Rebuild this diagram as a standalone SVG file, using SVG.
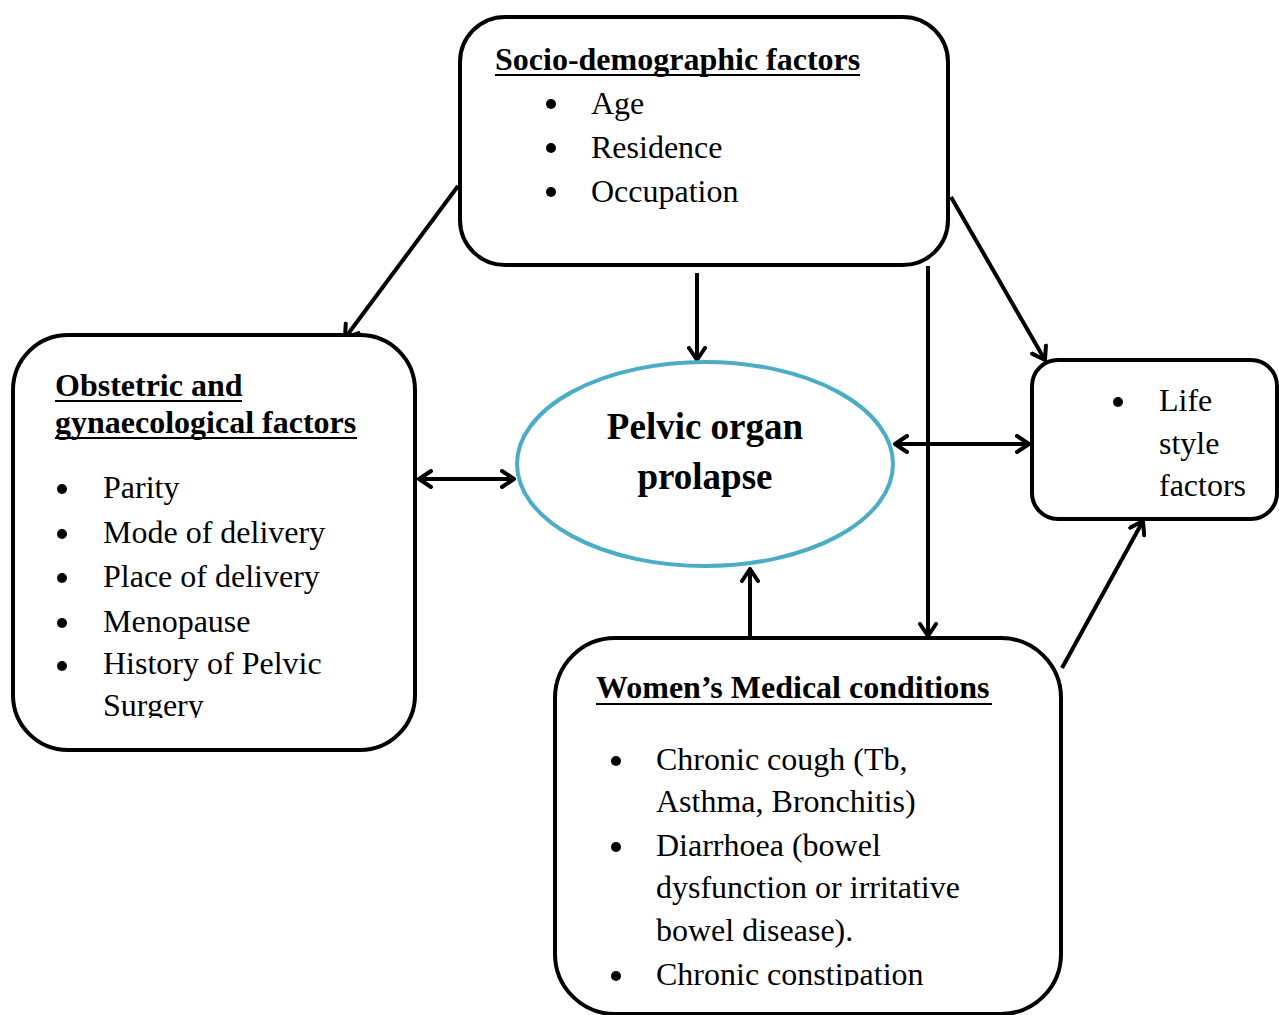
<svg xmlns="http://www.w3.org/2000/svg" width="1279" height="1015" viewBox="0 0 1279 1015">
<style>
.box{fill:#fff;stroke:#000;stroke-width:4}
.t{font-family:"Liberation Serif","Times New Roman",serif;font-size:32px;fill:#000}
.h{font-family:"Liberation Serif","Times New Roman",serif;font-size:32px;font-weight:bold;fill:#000}
.ul{stroke:#000;stroke-width:2}
.c{stroke:#000;stroke-width:4;fill:none;marker-end:url(#ah)}
.d{stroke:#000;stroke-width:4;fill:none;marker-end:url(#ah);marker-start:url(#ahs)}
</style>
<defs>
<marker id="ah" viewBox="0 0 16 20" refX="14" refY="10" markerWidth="16" markerHeight="20" markerUnits="userSpaceOnUse" orient="auto">
<path d="M2,2 L14,10 L2,18" fill="none" stroke="#000" stroke-width="4" stroke-linecap="round" stroke-linejoin="round"/>
</marker>
<marker id="ahs" viewBox="0 0 16 20" refX="2" refY="10" markerWidth="16" markerHeight="20" markerUnits="userSpaceOnUse" orient="auto">
<path d="M14,2 L2,10 L14,18" fill="none" stroke="#000" stroke-width="4" stroke-linecap="round" stroke-linejoin="round"/>
</marker>
<clipPath id="clipL"><rect x="0" y="330" width="420" height="388"/></clipPath>
<clipPath id="clipB"><rect x="550" y="630" width="520" height="356"/></clipPath>
</defs>
<rect width="1279" height="1015" fill="#fff"/>

<g id="connectors">
<line class="c" x1="458" y1="186" x2="345" y2="338"/>
<line class="c" x1="697" y1="273" x2="697" y2="360"/>
<line class="c" x1="928" y1="266" x2="928" y2="636"/>
<line class="c" x1="951" y1="197" x2="1045" y2="360"/>
<line class="d" x1="419" y1="479" x2="514" y2="479"/>
<line class="d" x1="895" y1="444" x2="1029" y2="444"/>
<line class="c" x1="750" y1="638" x2="750" y2="569"/>
<line class="c" x1="1062" y1="668" x2="1143" y2="521"/>
</g>

<g id="socio">
<rect class="box" x="460" y="17" width="488" height="248" rx="45"/>
<text class="h" x="495" y="70">Socio-demographic factors</text>
<line class="ul" x1="495" y1="75" x2="860" y2="75"/>
<circle cx="551" cy="104" r="5"/><text class="t" x="591" y="114">Age</text>
<circle cx="551" cy="148" r="5"/><text class="t" x="591" y="158">Residence</text>
<circle cx="551" cy="192" r="5"/><text class="t" x="591" y="202">Occupation</text>
</g>

<g id="obstetric">
<rect class="box" x="13" y="335" width="402" height="415" rx="55"/>
<text class="h" x="55" y="396">Obstetric and</text>
<line class="ul" x1="55" y1="401" x2="242" y2="401"/>
<text class="h" x="55" y="433">gynaecological factors</text>
<line class="ul" x1="55" y1="438" x2="357" y2="438"/>
<g clip-path="url(#clipL)">
<circle cx="62" cy="489" r="5"/><text class="t" x="103" y="498">Parity</text>
<circle cx="62" cy="534" r="5"/><text class="t" x="103" y="543">Mode of delivery</text>
<circle cx="62" cy="578" r="5"/><text class="t" x="103" y="587">Place of delivery</text>
<circle cx="62" cy="623" r="5"/><text class="t" x="103" y="632">Menopause</text>
<circle cx="62" cy="666" r="5"/><text class="t" x="103" y="674">History of Pelvic</text>
<text class="t" x="103" y="716">Surgery</text>
</g>
</g>

<g id="pop">
<ellipse cx="705" cy="464" rx="188" ry="102" fill="#fff" stroke="#4BACC6" stroke-width="4"/>
<text class="h" x="705" y="439" text-anchor="middle" style="font-size:37px">Pelvic organ</text>
<text class="h" x="705" y="489" text-anchor="middle" style="font-size:37px">prolapse</text>
</g>

<g id="lifestyle">
<rect class="box" x="1032" y="360" width="245" height="159" rx="26"/>
<circle cx="1118" cy="402" r="5"/>
<text class="t" x="1159" y="411">Life</text>
<text class="t" x="1159" y="454">style</text>
<text class="t" x="1159" y="496">factors</text>
</g>

<g id="medical">
<rect class="box" x="555" y="638" width="506" height="376" rx="60"/>
<text class="h" x="596" y="698">Women’s Medical conditions</text>
<line class="ul" x1="596" y1="704" x2="992" y2="704"/>
<g clip-path="url(#clipB)">
<circle cx="616" cy="761" r="5"/><text class="t" x="656" y="770">Chronic cough (Tb,</text>
<text class="t" x="656" y="812">Asthma, Bronchitis)</text>
<circle cx="616" cy="847" r="5"/><text class="t" x="656" y="856">Diarrhoea (bowel</text>
<text class="t" x="656" y="898">dysfunction or irritative</text>
<text class="t" x="656" y="941">bowel disease).</text>
<circle cx="616" cy="976" r="5"/><text class="t" x="656" y="985">Chronic constipation</text>
</g>
</g>
</svg>
